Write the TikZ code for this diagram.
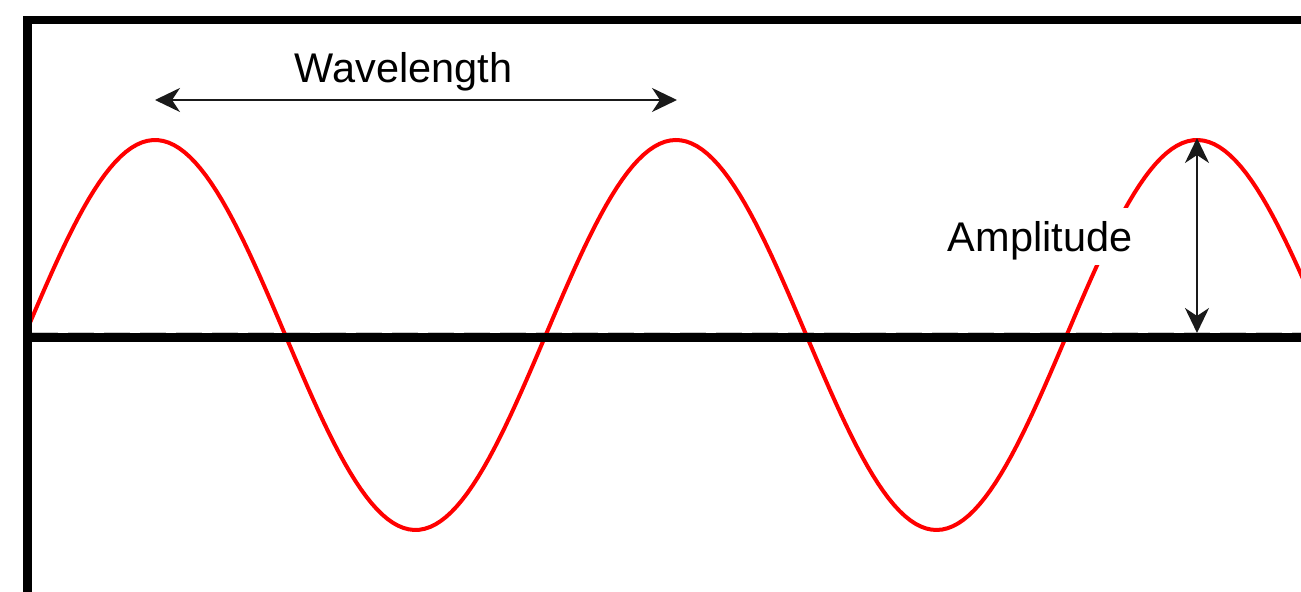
\documentclass[tikz,border=0pt]{standalone}
\usepackage{fontspec}
\setmainfont{Liberation Sans}
\usetikzlibrary{arrows.meta}
\definecolor{Ink}{HTML}{1A1A1A}
\definecolor{WaveRed}{HTML}{FF0000}

\begin{document}
\begin{tikzpicture}[x=1cm,y=1cm,
  frameline/.style={black,line width=0.085cm},
  wave/.style={WaveRed,line width=0.04cm},
  dimarrow/.style={{Stealth[length=0.25cm,width=0.24cm,inset=0.08cm]}-{Stealth[length=0.25cm,width=0.24cm,inset=0.08cm]},Ink,line width=0.7pt},
  lbl/.style={anchor=base,fill=white,inner xsep=0.08cm,inner ysep=0pt,text height=0.44cm,text depth=0.13cm,font=\fontsize{11.8}{14}\selectfont,text=black}]
\useasboundingbox (0,0) rectangle (13.01,5.92);
\clip (0,0) rectangle (13.01,5.92);
% faint guide just above the axis
\draw[black!22,line width=0.5pt,dash pattern=on 0.26cm off 0.1cm] (0.32,2.59) -- (13.01,2.59);
% the wave
\draw[wave] plot[domain=0.30:13.05,samples=240] (\x,{2.57+1.95*cos(360*(\x-1.55)/5.21)});
% frame and axis
\draw[frameline] (13.2,5.72) -- (0.275,5.72) -- (0.275,-0.2);
\draw[frameline,line width=0.09cm] (0.275,2.54) -- (13.2,2.54);
% wavelength
\coordinate (wlL) at (1.55,4.92);
\coordinate (wlR) at (6.77,4.92);
\draw[dimarrow] (wlL) -- (wlR);
\node[lbl] (wl) at (4.035,5.09) {Wavelength};
% amplitude
\coordinate (amTop) at (11.97,4.54);
\coordinate (amBot) at (11.97,2.59);
\draw[dimarrow] (amTop) -- (amBot);
\node[lbl] (am) at (10.40,3.40) {Amplitude};
\end{tikzpicture}
\end{document}
